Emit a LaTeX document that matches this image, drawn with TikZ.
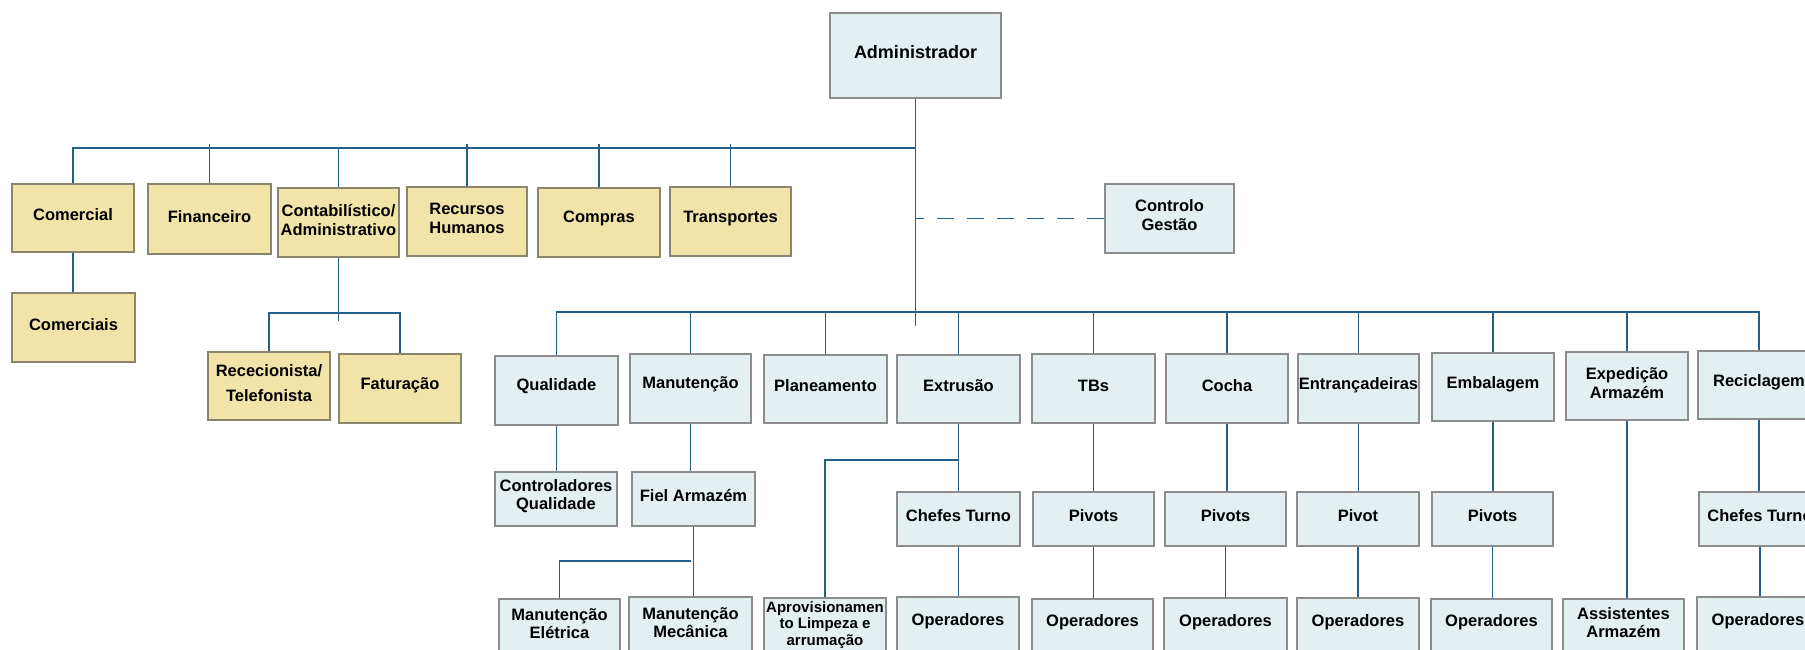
\documentclass[tikz,border=0pt]{standalone}
\usepackage{fontspec}
\setmainfont{Liberation Sans}
\definecolor{lineblue}{RGB}{34,96,138}
\definecolor{yfill}{RGB}{242,227,168}
\definecolor{ybord}{RGB}{140,133,110}
\definecolor{bfill}{RGB}{227,239,241}
\definecolor{bbord}{RGB}{140,140,140}
\tikzset{
  conn/.style={draw=lineblue, line width=1.8pt},
  ybox/.style={rectangle, draw=ybord, fill=yfill, line width=1.4pt, inner sep=0pt},
  bbox/.style={rectangle, draw=bbord, fill=bfill, line width=1.4pt, inner sep=0pt},
  lbl/.style={align=center, font=\bfseries\fontsize{16.5pt}{18.5pt}\selectfont, inner sep=0pt, text=black},
}
% style, name, x1, x2, y1, y2, label options, text
\newcommand\ob[8]{\node[#1, minimum width={(#4)-(#3)}, minimum height={(#6)-(#5)},
  label={[lbl,#7]center:{#8}}] (#2) at ({((#3)+(#4))/2},{((#5)+(#6))/2}) {};}
\newcommand\vconn[2]{\draw[conn] (#1.south) -- (#1.south |- #2.north);}
\begin{document}
\begin{tikzpicture}[x=1pt,y=-1pt]
\useasboundingbox (0,0) rectangle (1805,649);
\fill[white] (0,0) rectangle (1805,649);
\clip (0,0) rectangle (1805,649);

% ---- top ----
\ob{bbox}{admin}{830}{1001}{13}{98}{yshift=3.5pt,font=\bfseries\fontsize{18pt}{20pt}\selectfont}{Administrador}
\ob{bbox}{controlo}{1105}{1234}{184}{253}{yshift=3.5pt}{Controlo\\Gestão}

% ---- yellow departments ----
\ob{ybox}{comercial}{12}{134}{184}{252}{yshift=3.5pt}{Comercial}
\ob{ybox}{financeiro}{148}{271}{184}{254}{yshift=2.5pt}{Financeiro}
\ob{ybox}{contab}{278}{399}{188}{257}{yshift=2.5pt}{Contabilístico/\\Administrativo}
\ob{ybox}{recursos}{407}{527}{187}{256}{yshift=3pt}{Recursos\\Humanos}
\ob{ybox}{compras}{538}{660}{188}{257}{yshift=4pt}{Compras}
\ob{ybox}{transportes}{670}{791}{187}{256}{yshift=3pt}{Transportes}
\ob{ybox}{comerciais}{12}{135}{293}{362}{yshift=3pt}{Comerciais}
\ob{ybox}{rec}{208}{330}{352}{420}{yshift=3pt,font=\bfseries\fontsize{16.5pt}{25pt}\selectfont}{Rececionista/\\Telefonista}
\ob{ybox}{fat}{339}{461}{354}{423}{yshift=3pt}{Faturação}

% ---- blue row 1 ----
\ob{bbox}{qualidade}{495}{618}{356}{425}{yshift=4pt}{Qualidade}
\ob{bbox}{manutencao}{630}{751}{354}{423}{yshift=4pt}{Manutenção}
\ob{bbox}{planeamento}{764}{887}{355}{423}{yshift=3pt}{Planeamento}
\ob{bbox}{extrusao}{897}{1020}{355}{423}{yshift=3pt}{Extrusão}
\ob{bbox}{tbs}{1032}{1155}{354}{423}{yshift=3pt}{TBs}
\ob{bbox}{cocha}{1166}{1288}{354}{423}{yshift=3pt}{Cocha}
\ob{bbox}{entr}{1298}{1419}{354}{423}{yshift=3pt}{Entrançadeiras}
\ob{bbox}{emb}{1432}{1554}{353}{421}{yshift=3pt}{Embalagem}
\ob{bbox}{exped}{1566}{1688}{352}{420}{yshift=3pt}{Expedição\\Armazém}
\ob{bbox}{recic}{1698}{1820}{351}{419}{yshift=3pt}{Reciclagem}

% ---- blue row 2 ----
\ob{bbox}{contrq}{495}{617}{472}{526}{yshift=3pt}{Controladores\\Qualidade}
\ob{bbox}{fiel}{632}{755}{472}{526}{yshift=3pt}{Fiel Armazém}
\ob{bbox}{chefese}{897}{1020}{492}{546}{yshift=3pt}{Chefes Turno}
\ob{bbox}{pivtb}{1033}{1154}{492}{546}{yshift=3pt}{Pivots}
\ob{bbox}{pivc}{1165}{1286}{492}{546}{yshift=3pt}{Pivots}
\ob{bbox}{piven}{1297}{1419}{492}{546}{yshift=3pt}{Pivot}
\ob{bbox}{pivemb}{1432}{1553}{492}{546}{yshift=3pt}{Pivots}
\ob{bbox}{chefesr}{1699}{1821}{492}{546}{yshift=3pt}{Chefes Turno}

% ---- blue row 3 (cut off at bottom) ----
\ob{bbox}{eletrica}{499}{620}{599}{668}{yshift=10pt}{Manutenção\\Elétrica}
\ob{bbox}{mecanica}{629}{752}{597}{668}{yshift=10pt}{Manutenção\\Mecânica}
\ob{bbox}{aprov}{764}{886}{598}{668}{yshift=8pt,font=\bfseries\fontsize{15pt}{16.7pt}\selectfont}{Aprovisionamen\\to Limpeza e\\arrumação}
\ob{bbox}{ope}{897}{1019}{597}{668}{yshift=11pt}{Operadores}
\ob{bbox}{optb}{1032}{1153}{599}{668}{yshift=11pt}{Operadores}
\ob{bbox}{opc}{1164}{1287}{598}{668}{yshift=11pt}{Operadores}
\ob{bbox}{open}{1297}{1419}{598}{668}{yshift=11pt}{Operadores}
\ob{bbox}{opemb}{1431}{1552}{599}{668}{yshift=11pt}{Operadores}
\ob{bbox}{assist}{1563}{1684}{599}{668}{yshift=11pt}{Assistentes\\Armazém}
\ob{bbox}{opr}{1697}{1819}{597}{668}{yshift=11pt}{Operadores}

% ---- connectors ----
\coordinate (topbus) at (0,148);
\coordinate (tick) at (0,144);
\coordinate (lowbus) at (0,312);
\coordinate (trunkend) at (0,326);
\coordinate (contabend) at (0,321);
\coordinate (recbus) at (0,313);
\coordinate (manbus) at (0,561);
\coordinate (extbus) at (0,460);

\draw[conn] (admin.south) -- (admin.south |- trunkend);
\draw[conn] (comercial.north) |- (admin.south |- topbus);
\foreach \n in {financeiro,recursos,compras,transportes}
  \draw[conn] (\n.north) -- (\n.north |- tick);
\draw[conn] (contab.north) -- (contab.north |- topbus);
\draw[conn, dash pattern=on 17pt off 13pt] (controlo.west) -- (controlo.west -| admin.south);

\vconn{comercial}{comerciais}
\draw[conn] (contab.south) -- (contab.south |- contabend);
\draw[conn] (rec.north) |- (fat.north |- recbus) -- (fat.north);

\draw[conn] (qualidade.north) |- (recic.north |- lowbus) -- (recic.north);
\foreach \n in {manutencao,planeamento,extrusao,tbs,cocha,entr,emb,exped}
  \draw[conn] (\n.north) -- (\n.north |- lowbus);

\vconn{qualidade}{contrq}
\vconn{manutencao}{fiel}
\vconn{fiel}{mecanica}
\draw[conn] (eletrica.north) |- (mecanica.north |- manbus);
\vconn{extrusao}{chefese}
\vconn{chefese}{ope}
\draw[conn] (aprov.north) |- (extrusao.south |- extbus);
\vconn{tbs}{pivtb}
\vconn{pivtb}{optb}
\vconn{cocha}{pivc}
\vconn{pivc}{opc}
\vconn{entr}{piven}
\vconn{piven}{open}
\vconn{emb}{pivemb}
\vconn{pivemb}{opemb}
\vconn{exped}{assist}
\vconn{recic}{chefesr}
\vconn{chefesr}{opr}
\end{tikzpicture}
\end{document}
